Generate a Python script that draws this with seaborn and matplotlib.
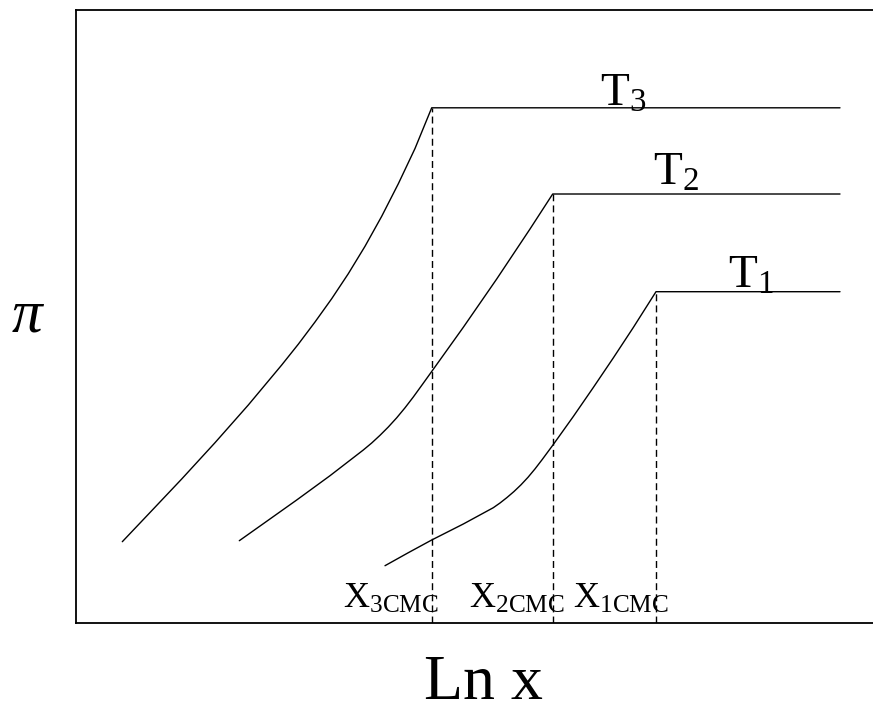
import matplotlib
matplotlib.use("Agg")
import matplotlib.pyplot as plt
import seaborn as sns
import pandas as pd
from matplotlib.transforms import Bbox, TransformedBbox

# Surface pressure isotherms vs. ln of mole fraction (schematic)
t3_lnx = [0.463, 0.723, 1.057, 1.39, 1.723, 2.057, 2.223, 2.39, 2.557, 2.723,
          2.89, 3.057, 3.223, 3.39, 3.557, 7.64]
t3_pi = [0.813, 1.087, 1.44, 1.803, 2.18, 2.58, 2.788, 3.01, 3.243, 3.493,
         3.767, 4.067, 4.392, 4.745, 5.152, 5.152]

t2_lnx = [1.633, 1.873, 2.207, 2.54, 2.873, 2.957, 3.04, 3.123, 3.207, 3.29,
          3.373, 3.465, 3.557, 3.873, 4.207, 4.54, 4.767, 7.64]
t2_pi = [0.823, 0.993, 1.23, 1.473, 1.73, 1.80, 1.877, 1.96, 2.052, 2.152,
         2.26, 2.387, 2.515, 2.957, 3.44, 3.94, 4.29, 4.29]

t1_lnx = [3.09, 3.323, 3.557, 3.873, 4.173, 4.24, 4.31, 4.38, 4.45, 4.52,
          4.59, 4.66, 4.773, 4.973, 5.173, 5.373, 5.573, 5.80, 7.64]
t1_pi = [0.573, 0.703, 0.83, 0.99, 1.153, 1.20, 1.255, 1.315, 1.382, 1.457,
         1.541, 1.632, 1.785, 2.065, 2.355, 2.651, 2.955, 3.313, 3.313]

series_names = ["T3", "T2", "T1"]
curve_labels = [r"$\mathrm{T}_{3}$", r"$\mathrm{T}_{2}$", r"$\mathrm{T}_{1}$"]
cmc_labels = [r"$\mathrm{X}_{\mathrm{3CMC}}$", r"$\mathrm{X}_{\mathrm{2CMC}}$", r"$\mathrm{X}_{\mathrm{1CMC}}$"]
cmc_lnx = [3.557, 4.767, 5.80]
cmc_pi = [5.152, 4.29, 3.313]

sns.set_theme(style="white")
plt.rcParams["font.family"] = ["Liberation Serif", "DejaVu Serif"]
plt.rcParams["text.color"] = "black"
plt.rcParams["mathtext.fontset"] = "custom"
plt.rcParams["mathtext.rm"] = "Liberation Serif"
plt.rcParams["mathtext.it"] = "Liberation Serif:italic"

fig = plt.figure(figsize=(8.73, 7.06), dpi=100)
ax = fig.add_axes([0.08706, 0.11756, 0.91294, 0.86827])

frames = []
for name, xs, ys in zip(series_names, [t3_lnx, t2_lnx, t1_lnx], [t3_pi, t2_pi, t1_pi]):
    frames.append(pd.DataFrame({"lnx": xs, "pi": ys, "T": name}))
df = pd.concat(frames, ignore_index=True)

for name in series_names:
    sub = df[df["T"] == name]
    sns.lineplot(data=sub, x="lnx", y="pi", ax=ax, color="black", lw=1.0,
                 sort=False, estimator=None, legend=False)

# Dashed drop lines at each CMC
for xc, yc in zip(cmc_lnx, cmc_pi):
    ax.plot([xc, xc], [0, yc], color="black", lw=1.0, linestyle=(0, (5, 3)))

ax.set_xlim(0, 7.97)
ax.set_ylim(0, 6.13)
ax.set_xticks([])
ax.set_yticks([])
ax.set_xlabel("")
ax.set_ylabel("")
for side in ["left", "top", "bottom"]:
    ax.spines[side].set_color("black")
    ax.spines[side].set_linewidth(1.3)
ax.spines["right"].set_visible(False)

# Isotherm labels
label_pos = [(5.24, 5.17), (5.77, 4.38), (6.52, 3.35)]
for (lx, ly), txt in zip(label_pos, curve_labels):
    ax.text(lx, ly, txt, fontsize=34, ha="left", va="baseline", color="black")

# CMC labels, trimmed just above the axis line
clip = TransformedBbox(Bbox([[0, 0.11], [7.97, 6.13]]), ax.transData)
cmc_text_x = [2.665, 3.93, 4.97]
for lx, txt in zip(cmc_text_x, cmc_labels):
    t = ax.text(lx, 0.155, txt, fontsize=26, ha="left", va="baseline", color="black")
    t.set_clip_on(True)
    t.set_clip_box(clip)

fig.text(27 / 873, 1 - 317 / 706, "π", fontsize=44, style="italic",
         ha="center", va="center", color="black")
fig.text(483 / 873, 1 - 699 / 706, "Ln x", fontsize=46, ha="center",
         va="baseline", color="black")

fig.savefig("out.png", dpi=100, facecolor="white")
